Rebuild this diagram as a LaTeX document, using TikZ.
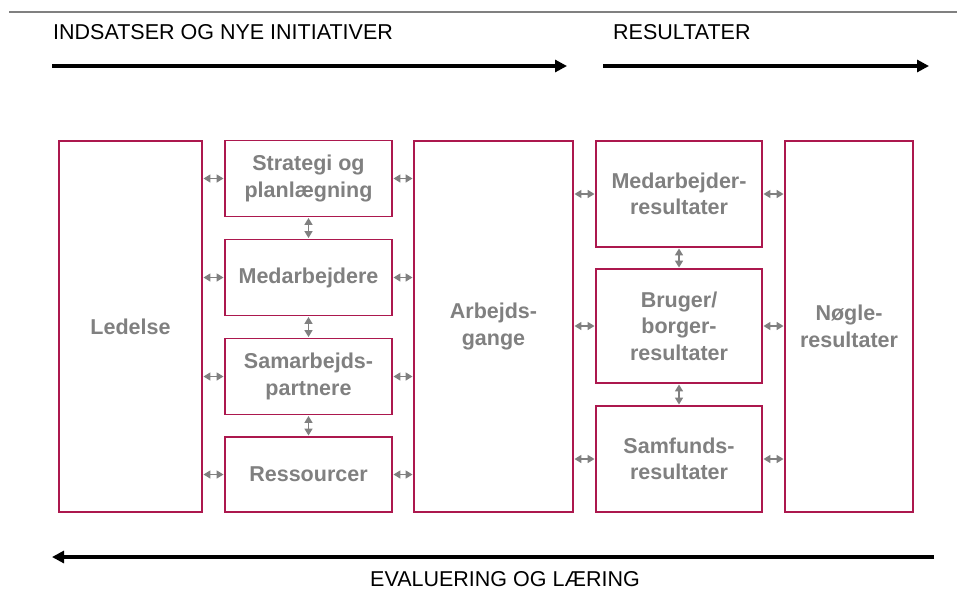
\documentclass[tikz,border=0pt]{standalone}
\usepackage{fontspec}
\setmainfont{Liberation Sans}
\usetikzlibrary{arrows.meta}
\definecolor{boxred}{RGB}{172,24,78}
\definecolor{txtgray}{RGB}{128,128,128}
\tikzset{
  box/.style={draw=boxred, line width=1.3pt, fill=white, inner sep=0pt, align=center,
    text=txtgray, font=\fontsize{21.5}{26.5}\selectfont\bfseries},
  dbl/.style={draw=txtgray, line width=1.6pt,
    {Triangle[length=7pt,width=8pt]}-{Triangle[length=7pt,width=8pt]}, shorten <=0.8pt, shorten >=0.8pt},
  bigarrow/.style={draw=black, line width=4pt, -{Triangle[length=12pt,width=12pt]}},
  head/.style={font=\fontsize{21.5}{24}\selectfont, text=black, inner sep=0pt}
}
\begin{document}
\begin{tikzpicture}[x=1pt,y=-1pt]
\path[use as bounding box] (0,0) rectangle (957,592);
% top rule
\coordinate (ruleL) at (9,12);
\coordinate (ruleR) at (957,12);
\draw[txtgray, line width=1.5pt] (ruleL) -- (ruleR);
% headings
\node[head, anchor=west] (h1) at (53,32) {INDSATSER OG NYE INITIATIVER};
\node[head, anchor=west] (h2) at (613,32) {RESULTATER};
\node[head] (h3) at (505,579) {EVALUERING OG LÆRING};
% big arrows
\coordinate (a1s) at (52,66);  \coordinate (a1e) at (567,66);
\coordinate (a2s) at (603,66); \coordinate (a2e) at (929,66);
\coordinate (a3s) at (934,557); \coordinate (a3e) at (52,557);
\draw[bigarrow] (a1s) -- (a1e);
\draw[bigarrow] (a2s) -- (a2e);
\draw[bigarrow] (a3s) -- (a3e);
% boxes
\node[box, minimum width=143pt, minimum height=371pt] (led) at (130.5,326.5) {Ledelse};
\node[box, minimum width=167pt, minimum height=76pt] (str) at (308.5,178.5) {\raisebox{-2pt}{\parbox{160pt}{\centering Strategi og\\planlægning}}};
\node[box, minimum width=167pt, minimum height=76pt] (med) at (308.5,277.5) {Medarbejdere};
\node[box, minimum width=167pt, minimum height=76pt] (sam) at (308.5,376.5) {Samarbejds-\\partnere};
\node[box, minimum width=167pt, minimum height=75pt] (res) at (308.5,474.5) {Ressourcer};
\node[box, minimum width=159pt, minimum height=371pt] (arb) at (493.5,326.5) {Arbejds-\\gange};
\node[box, minimum width=166pt, minimum height=106pt] (mr) at (679,194) {Medarbejder-\\resultater};
\node[box, minimum width=166pt, minimum height=114pt] (br) at (679,326) {Bruger/\\borger-\\resultater};
\node[box, minimum width=166pt, minimum height=106pt] (sr) at (679,459) {Samfunds-\\resultater};
\node[box, minimum width=128pt, minimum height=371pt] (ng) at (849,326.5) {Nøgle-\\resultater};
% small connectors: Ledelse <-> left column <-> Arbejdsgange
\foreach \n in {str,med,sam,res}{
  \draw[dbl] (led.east |- \n) -- (\n.west);
  \draw[dbl] (\n.east) -- (arb.west |- \n);
}
% vertical in left column
\draw[dbl] (str.south) -- (med.north);
\draw[dbl] (med.south) -- (sam.north);
\draw[dbl] (sam.south) -- (res.north);
% right side
\foreach \n in {mr,br,sr}{
  \draw[dbl] (arb.east |- \n) -- (\n.west);
  \draw[dbl] (\n.east) -- (ng.west |- \n);
}
\draw[dbl] (mr.south) -- (br.north);
\draw[dbl] (br.south) -- (sr.north);
\end{tikzpicture}
\end{document}
